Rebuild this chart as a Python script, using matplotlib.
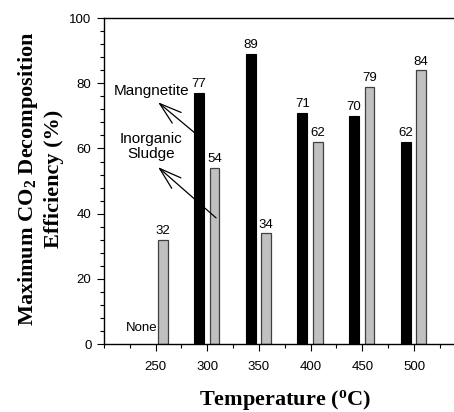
import numpy as np
import matplotlib.pyplot as plt
from matplotlib.ticker import MultipleLocator

# Data
temperatures = [250, 300, 350, 400, 450, 500]
magnetite = [0, 77, 89, 71, 70, 62]        # no magnetite bar at 250 ("None")
sludge = [32, 54, 34, 62, 79, 84]

plt.rcParams['font.family'] = ['Liberation Sans', 'DejaVu Sans']
plt.rcParams['mathtext.fontset'] = 'custom'
plt.rcParams['mathtext.rm'] = 'Liberation Serif'
plt.rcParams['mathtext.bf'] = 'Liberation Serif:bold'

fig = plt.figure(figsize=(4.54, 4.12), dpi=100)
ax = fig.add_axes([0.229, 0.165, 0.799, 0.791])

temps = np.array(temperatures)
for t, m in zip(temps, magnetite):
    if m > 0:
        ax.bar(t - 8, m, width=9.5, color='black', edgecolor='black', linewidth=0.8)
        ax.text(t - 8, m + 0.8, str(m), ha='center', va='bottom', fontsize=9.5)
for t, s in zip(temps, sludge):
    ax.bar(t + 7, s, width=9.5, color='#c0c0c0', edgecolor='#404040', linewidth=0.9)
    ax.text(t + 7, s + 0.8, str(s), ha='center', va='bottom', fontsize=9.5)

ax.text(251.5, 4, 'None', ha='right', va='baseline', fontsize=9.5)

# labels with arrows
ax.text(246.5, 77.7, 'Mangnetite', ha='center', va='center', fontsize=11)
ax.text(245.5, 60.6, 'Inorganic\nSludge', ha='center', va='center', fontsize=11,
        linespacing=1.15)
arrow = dict(arrowstyle='->,head_length=1.6,head_width=0.5', mutation_scale=10,
             color='black', lw=0.9, shrinkA=0, shrinkB=0)
ax.annotate('', xy=(252.3, 74.2), xytext=(288.2, 64.7), arrowprops=arrow)
ax.annotate('', xy=(252.3, 54.3), xytext=(308.5, 38.7), arrowprops=arrow)

ax.set_xlim(200, 551)
ax.set_ylim(0, 100)
ax.set_xticks(temperatures)
ax.xaxis.set_minor_locator(MultipleLocator(25))
ax.set_yticks([0, 20, 40, 60, 80, 100])
ax.yaxis.set_minor_locator(MultipleLocator(4))
ax.tick_params(which='both', direction='out', labelsize=9.5, width=0.8)
ax.tick_params(which='major', length=5)
ax.tick_params(which='minor', length=3)
ax.tick_params(axis='x', pad=7)
ax.tick_params(axis='y', pad=4)
ax.spines['right'].set_visible(False)
for side in ['left', 'bottom', 'top']:
    ax.spines[side].set_linewidth(1.0)

ax.set_xlabel('Temperature ($\\mathbf{^{o}}$C)', family='Liberation Serif',
              fontsize=16, fontweight='bold', va='center')
ax.xaxis.set_label_coords(0.498, -0.172)
ax.set_ylabel('Maximum CO$_\\mathbf{2}$ Decomposition\nEfficiency (%)',
              family='Liberation Serif', fontsize=16, fontweight='bold',
              linespacing=1.3, va='center', ha='center')
ax.yaxis.set_label_coords(-0.176, 0.506)

fig.savefig('out.png', dpi=100)
